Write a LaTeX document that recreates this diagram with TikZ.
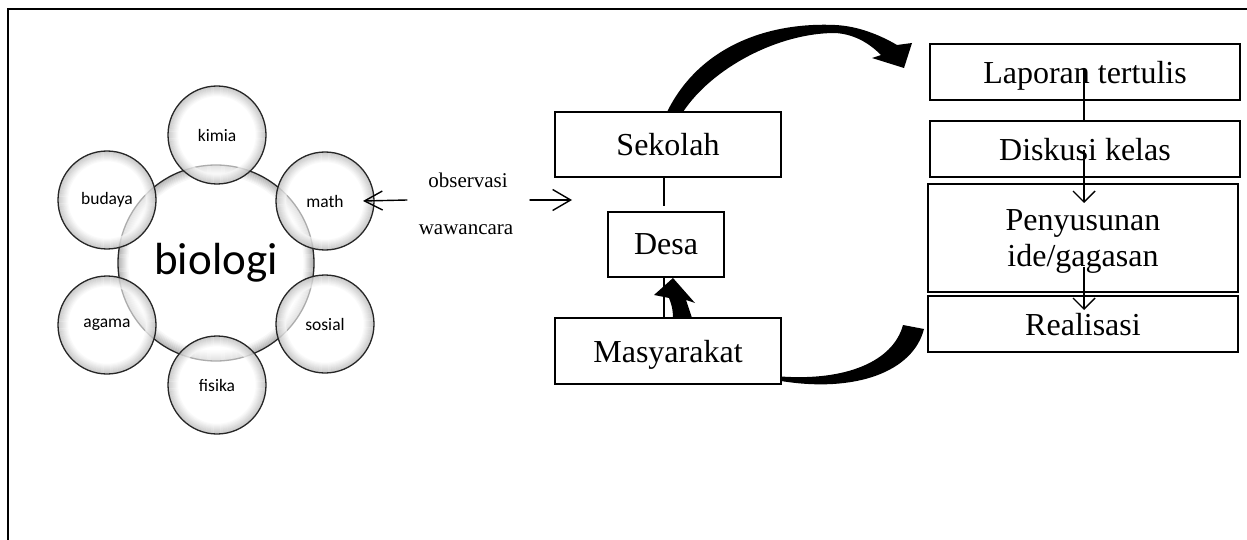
\documentclass[tikz,border=0pt]{standalone}
\usepackage{fontspec}
\setmainfont{Liberation Serif}
\newfontfamily\calib{Carlito}
\usetikzlibrary{arrows.meta,calc}
\newcommand\myrims[2]{%
  \foreach \k in {0,...,9}{%
    \pgfmathsetmacro\cc{30-3*\k}%
    \draw[black!\cc, line width=1.2pt] (#1) circle [radius=#2-0.7-\k];}}
\newcommand\mybubble[5]{% name, x, y, radius, text
  \coordinate (#1c) at (#2,#3);
  \fill[white, fill opacity=0.62] (#1c) circle [radius=#4];
  \begin{scope}[opacity=0.62]\myrims{#1c}{#4}\end{scope}
  \node[bub, minimum size=2*#4] (#1) at (#1c) {#5};}
\begin{document}
\begin{tikzpicture}[x=1pt,y=-1pt,
  bub/.style={circle, draw=black!85, line width=1.3pt, inner sep=0pt, outer sep=0pt, font=\calib\fontsize{17.5}{20}\selectfont},
  box/.style={draw, line width=1.4pt, fill=white, inner sep=0pt, outer sep=0pt, text depth=0pt, font=\fontsize{32}{36}\selectfont, align=center},
  conn/.style={line width=1.4pt},
  lbl/.style={font=\fontsize{21}{24}\selectfont, inner sep=0pt}
]
\useasboundingbox (0,0) rectangle (1247,540);
% frame
\coordinate (fTR) at (1247,9);
\coordinate (fTL) at (8,9);
\coordinate (fBL) at (8,540);
\draw[line width=2pt] (fTR) -- (fTL) -- (fBL);

% circles
\coordinate (bioc) at (216,263);
\fill[white] (bioc) circle [radius=98];
\myrims{bioc}{98}
\node[bub, minimum size=196pt, font=\calib\fontsize{45}{50}\selectfont] (bio) at (bioc) {biologi};
\mybubble{kimia}{217}{135}{49}{kimia}
\mybubble{budaya}{107}{200}{49}{budaya}
\mybubble{math}{325}{201}{49}{math}
\mybubble{agama}{107}{325}{49}{agama}
\mybubble{sosial}{325}{324}{49}{sosial}
\mybubble{fisika}{217}{385}{49}{fisika}

% observasi / wawancara
\node[lbl] (obs) at (468,180) {observasi};
\node[lbl] (waw) at (466,230) {wawancara};
\coordinate (oL) at (407,200);
\coordinate (oR) at (530,200);
\coordinate (oT) at (572,200);
\draw[conn, line cap=round, -{Straight Barb[length=18pt,width=19pt,line width=1.4pt]}] (oL) -- ([xshift=-11pt]math.east);
\draw[conn, line cap=round, -{Straight Barb[length=18pt,width=21pt,line width=1.4pt]}] (oR) -- (oT);

% middle boxes
\node[box, minimum width=226pt, minimum height=65pt] (sek) at (668,144.5) {Sekolah};
\node[box, minimum width=116pt, minimum height=65pt] (desa) at (666,244.5) {Desa};
\node[box, minimum width=226pt, minimum height=66pt] (masy) at (668,351) {Masyarakat};
\draw[conn] ([xshift=-4pt]sek.south) -- ($(desa.north)+(-2,-6)$);
\draw[conn] ([xshift=-2pt]desa.south) -- ([xshift=-4pt]masy.north);

% thick arrows
\fill ($(sek.north)+(-1,0)$) .. controls (700,45) and (770,22) .. (835,25)
  .. controls (858,26) and (880,35) .. (897,45) -- (912,43) -- (904,68) -- (872,58) -- (881,55)
  .. controls (868,42) and (853,34) .. (835,33)
  .. controls (778,33) and (712,68) .. ($(sek.north)+(15,0)$) -- cycle;
\fill ($(masy.north)+(5,0)$) .. controls (673,309) and (671,303) .. (669,298) -- (654,295) -- (673,278) -- (695,303) -- (686,300)
  .. controls (688,306) and (690,312) .. ($(masy.north)+(24,0)$) -- cycle;
\fill ($(masy.east)+(0,25.5)$) .. controls (845,381) and (893,362) .. (903,325) -- (924,329)
  .. controls (913,372) and (855,393) .. ($(masy.east)+(0,30)$) -- cycle;

% right column
\node[box, minimum width=310pt, minimum height=56pt] (lap) at (1085,72) {Laporan tertulis};
\draw[conn, -{Straight Barb[length=11pt,width=22pt,line width=1.4pt]}] ($(lap.center)+(-1,-4)$) -- ($(lap.south)+(-1,37)$);
\node[box, minimum width=310pt, minimum height=56pt] (disk) at (1085,149) {Diskusi kelas};
\node[box, minimum width=310pt, minimum height=108pt, text depth=-5pt] (peny) at (1083,238) {Penyusunan\\ide/gagasan};
\node[box, minimum width=310pt, minimum height=56pt] (real) at (1083,324) {Realisasi};
\draw[conn, -{Straight Barb[length=11pt,width=22pt,line width=1.4pt]}] ($(disk.center)+(-1,1)$) -- ($(peny.north)+(1,19)$);
\draw[conn, -{Straight Barb[length=11pt,width=22pt,line width=1.4pt]}] ($(peny.center)+(1,29)$) -- ($(real.north)+(1,14)$);
\end{tikzpicture}
\end{document}
